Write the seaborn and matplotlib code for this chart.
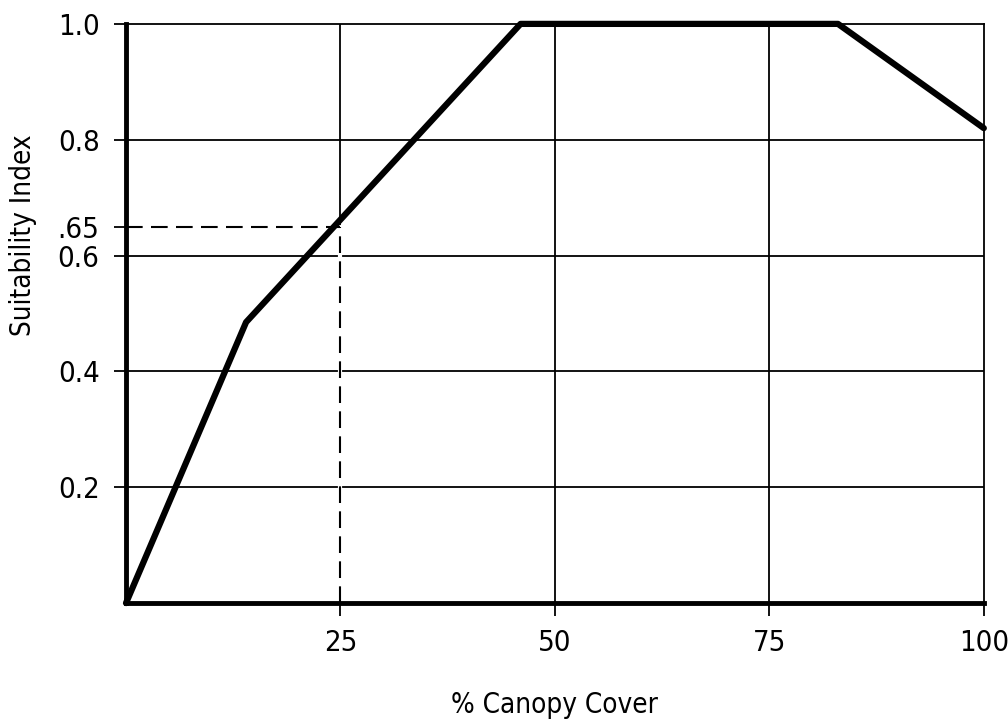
import matplotlib
matplotlib.use('Agg')
import matplotlib.pyplot as plt
import seaborn as sns
import pandas as pd

# Dados da curva de adequação
canopy_cover = [0, 14, 46, 83, 100]
suitability = [0, 0.485, 1.0, 1.0, 0.82]

# Exemplo de leitura tracejado
example_x = 25
example_y = 0.65

x_ticks = [25, 50, 75, 100]
x_tick_labels = ["25", "50", "75", "100"]
y_ticks = [0.2, 0.4, 0.6, 0.65, 0.8, 1.0]
y_tick_labels = ["0.2", "0.4", "0.6", ".65", "0.8", "1.0"]
grid_x = [25, 50, 75]
grid_y = [0.2, 0.4, 0.6, 0.8]

sns.set_style("white")
plt.rcParams['font.family'] = ['DejaVu Sans']
plt.rcParams['font.stretch'] = 'condensed'
plt.rcParams['text.color'] = 'black'
plt.rcParams['axes.labelcolor'] = 'black'

df = pd.DataFrame({"cover": canopy_cover, "si": suitability})

fig = plt.figure(figsize=(10.08, 7.24), dpi=100)
ax = fig.add_axes([0.125, 0.167, 0.851, 0.80])

for gx in grid_x:
    ax.axvline(gx, color="black", lw=1.3, zorder=1)
for gy in grid_y:
    ax.axhline(gy, color="black", lw=1.3, zorder=1)

# linhas tracejadas do exemplo
ax.plot([0, example_x], [example_y, example_y], color="black", lw=1.5,
        dashes=(8, 4), zorder=2)
ax.plot([example_x, example_x], [0, example_y], color="white", lw=3, zorder=1.5)
ax.plot([example_x, example_x], [0, example_y], color="black", lw=1.5,
        dashes=(8, 4), zorder=2)

sns.lineplot(data=df, x="cover", y="si", color="black", lw=4.5, ax=ax,
             zorder=3, clip_on=False)

ax.set_xlim(0, 100)
ax.set_ylim(0, 1.0)
ax.set_xticks(x_ticks)
ax.set_xticklabels(x_tick_labels)
ax.set_yticks(y_ticks)
ax.set_yticklabels(y_tick_labels)
ax.tick_params(axis="both", direction="out", length=9, width=1.3,
               color="black", labelcolor="black", labelsize=21, pad=10,
               bottom=True, left=True)

for side in ["left", "bottom"]:
    ax.spines[side].set_linewidth(3.5)
for side in ["top", "right"]:
    ax.spines[side].set_linewidth(1.3)
for s in ax.spines.values():
    s.set_color("black")
    s.set_zorder(4)

ax.set_xlabel("% Canopy Cover", fontsize=20, labelpad=24)
ax.set_ylabel("Suitability Index", fontsize=20, va="center")
ax.yaxis.set_label_coords(-0.12, 0.636)

fig.savefig("out.png", dpi=100)
plt.close()
